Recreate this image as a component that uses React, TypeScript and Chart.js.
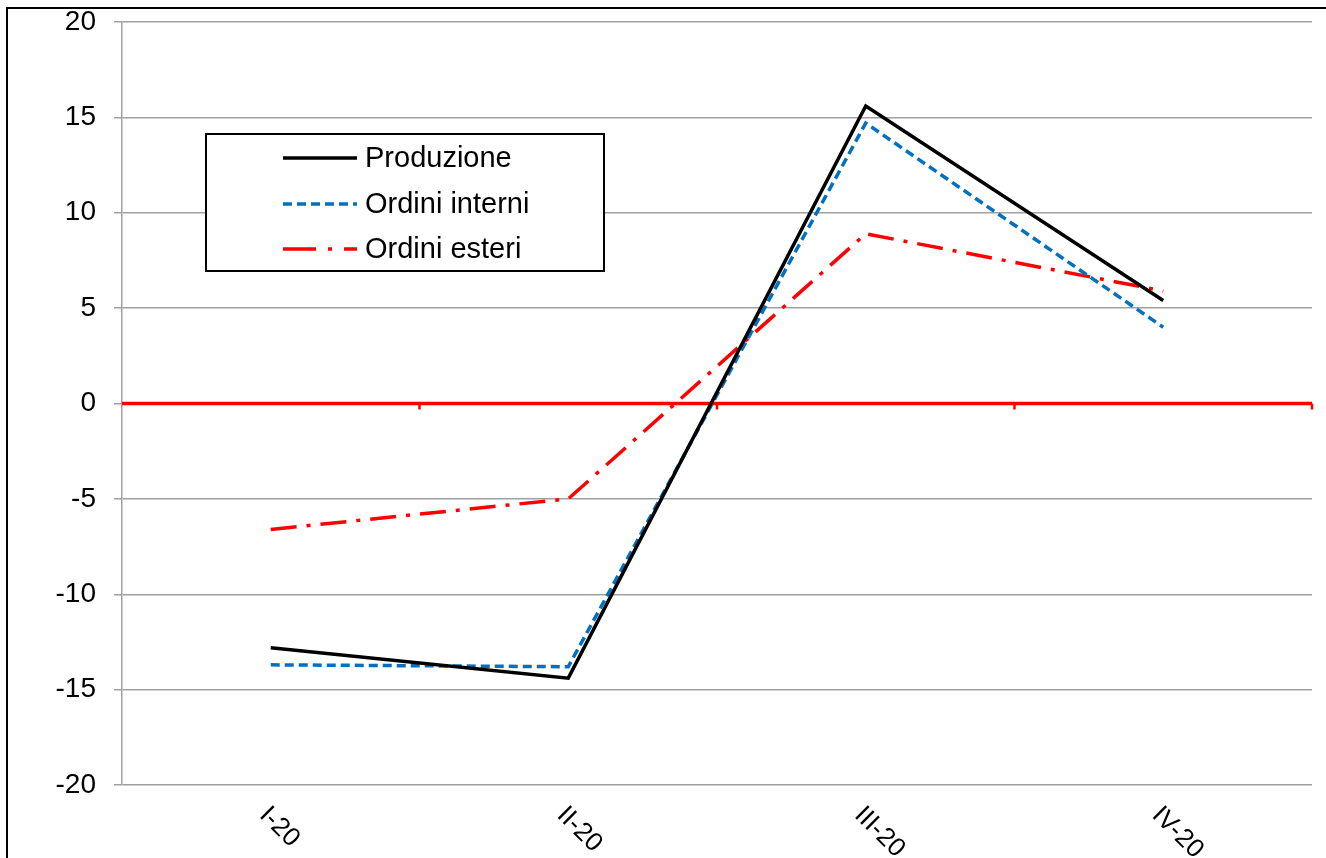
import React, { useEffect, useRef } from "react";
import { Chart, registerables } from "chart.js";

Chart.register(...registerables);

const categories = ["I-20", "II-20", "III-20", "IV-20"];
const produzione = [-12.8, -14.4, 15.6, 5.4];
const ordiniInterni = [-13.7, -13.8, 14.7, 4.0];
const ordiniEsteri = [-6.6, -5.0, 8.9, 5.9];
const yTicks = { min: -20, max: 20, step: 5 };

const seriesNames = ["Produzione", "Ordini interni", "Ordini esteri"];
const seriesColors = ["#000000", "#0070C0", "#FF0000"];
const seriesDash: number[][] = [[], [9, 5], [26, 10, 4, 10]];

const FONT = "'Liberation Sans', Arial, sans-serif";

const decorPlugin = {
  id: "decor",
  beforeDraw(chart: any) {
    const ctx = chart.ctx;
    ctx.save();
    ctx.fillStyle = "#ffffff";
    ctx.fillRect(0, 0, chart.width, chart.height);
    ctx.strokeStyle = "#000000";
    ctx.lineWidth = 2;
    ctx.strokeRect(7, 8, chart.width + 50, chart.height + 50);
    ctx.restore();
  },
  beforeDatasetsDraw(chart: any) {
    const ctx = chart.ctx;
    const { left, right } = chart.chartArea;
    const xs = chart.scales.x;
    const ys = chart.scales.y;
    const y0 = ys.getPixelForValue(0);
    ctx.save();
    ctx.strokeStyle = "#FF0000";
    ctx.lineWidth = 3.5;
    ctx.beginPath();
    ctx.moveTo(left, y0);
    ctx.lineTo(right, y0);
    ctx.stroke();
    ctx.lineWidth = 2.5;
    for (let i = 0; i < categories.length; i++) {
      const bx =
        i < categories.length - 1
          ? (xs.getPixelForValue(i) + xs.getPixelForValue(i + 1)) / 2
          : right;
      ctx.beginPath();
      ctx.moveTo(bx, y0);
      ctx.lineTo(bx, y0 + 6);
      ctx.stroke();
    }
    ctx.restore();
  },
  afterDraw(chart: any) {
    const ctx = chart.ctx;
    const xs = chart.scales.x;
    const { bottom } = chart.chartArea;
    ctx.save();
    // x labels rotated clockwise
    ctx.fillStyle = "#000000";
    ctx.font = `26px ${FONT}`;
    ctx.textAlign = "left";
    ctx.textBaseline = "top";
    categories.forEach((c, i) => {
      const px = xs.getPixelForValue(i);
      ctx.save();
      ctx.translate(px + 2, bottom + 17);
      ctx.rotate(Math.PI / 4);
      ctx.fillText(c, 0, 0);
      ctx.restore();
    });
    // legend
    const bx = 206, by = 134, bw = 398, bh = 137;
    ctx.fillStyle = "#ffffff";
    ctx.fillRect(bx, by, bw, bh);
    ctx.strokeStyle = "#000000";
    ctx.lineWidth = 2;
    ctx.strokeRect(bx, by, bw, bh);
    const rows = [158, 204, 249];
    seriesNames.forEach((name, i) => {
      ctx.strokeStyle = seriesColors[i];
      ctx.lineWidth = 3.5;
      ctx.setLineDash(i === 2 ? [33, 12, 4, 12] : seriesDash[i]);
      ctx.beginPath();
      ctx.moveTo(283, rows[i]);
      ctx.lineTo(357, rows[i]);
      ctx.stroke();
      ctx.setLineDash([]);
      ctx.fillStyle = "#000000";
      ctx.font = `29px ${FONT}`;
      ctx.textBaseline = "middle";
      ctx.fillText(name, 365, rows[i] + 1);
    });
    ctx.restore();
  },
};

export default function App() {
  const ref = useRef<HTMLCanvasElement | null>(null);
  useEffect(() => {
    if (!ref.current) return;
    const series = [produzione, ordiniInterni, ordiniEsteri];
    const chart = new Chart(ref.current, {
      type: "line",
      data: {
        labels: categories,
        datasets: series.map((d, i) => ({
          label: seriesNames[i],
          data: d,
          borderColor: seriesColors[i],
          borderWidth: 3.5,
          borderDash: seriesDash[i],
          pointRadius: 0,
          tension: 0,
          fill: false,
        })),
      },
      options: {
        responsive: false,
        animation: false,
        layout: { padding: { left: 0, right: 14, top: 22, bottom: 0 } },
        plugins: { legend: { display: false }, tooltip: { enabled: false } },
        scales: {
          x: {
            offset: true,
            grid: { display: false, drawTicks: false },
            border: { display: false },
            ticks: { display: false },
            afterFit: (s: any) => {
              s.height = 73;
            },
          },
          y: {
            min: yTicks.min,
            max: yTicks.max,
            grid: { color: "#a0a0a0", lineWidth: 1.5, tickLength: 8 },
            border: { display: true, color: "#a0a0a0", width: 1.5 },
            ticks: {
              stepSize: yTicks.step,
              color: "#000000",
              padding: 18,
              font: { family: FONT, size: 28 },
            },
            afterFit: (s: any) => {
              s.width = 122;
              s.paddingTop = 0;
              s.paddingBottom = 0;
            },
          },
        },
      },
      plugins: [decorPlugin],
    });
    return () => chart.destroy();
  }, []);
  return (
    <div style={{ position: "fixed", left: 0, top: 0, width: 1326, height: 858, background: "#fff" }}>
      <canvas ref={ref} width={1326} height={858} style={{ width: 1326, height: 858, display: "block" }} />
    </div>
  );
}
